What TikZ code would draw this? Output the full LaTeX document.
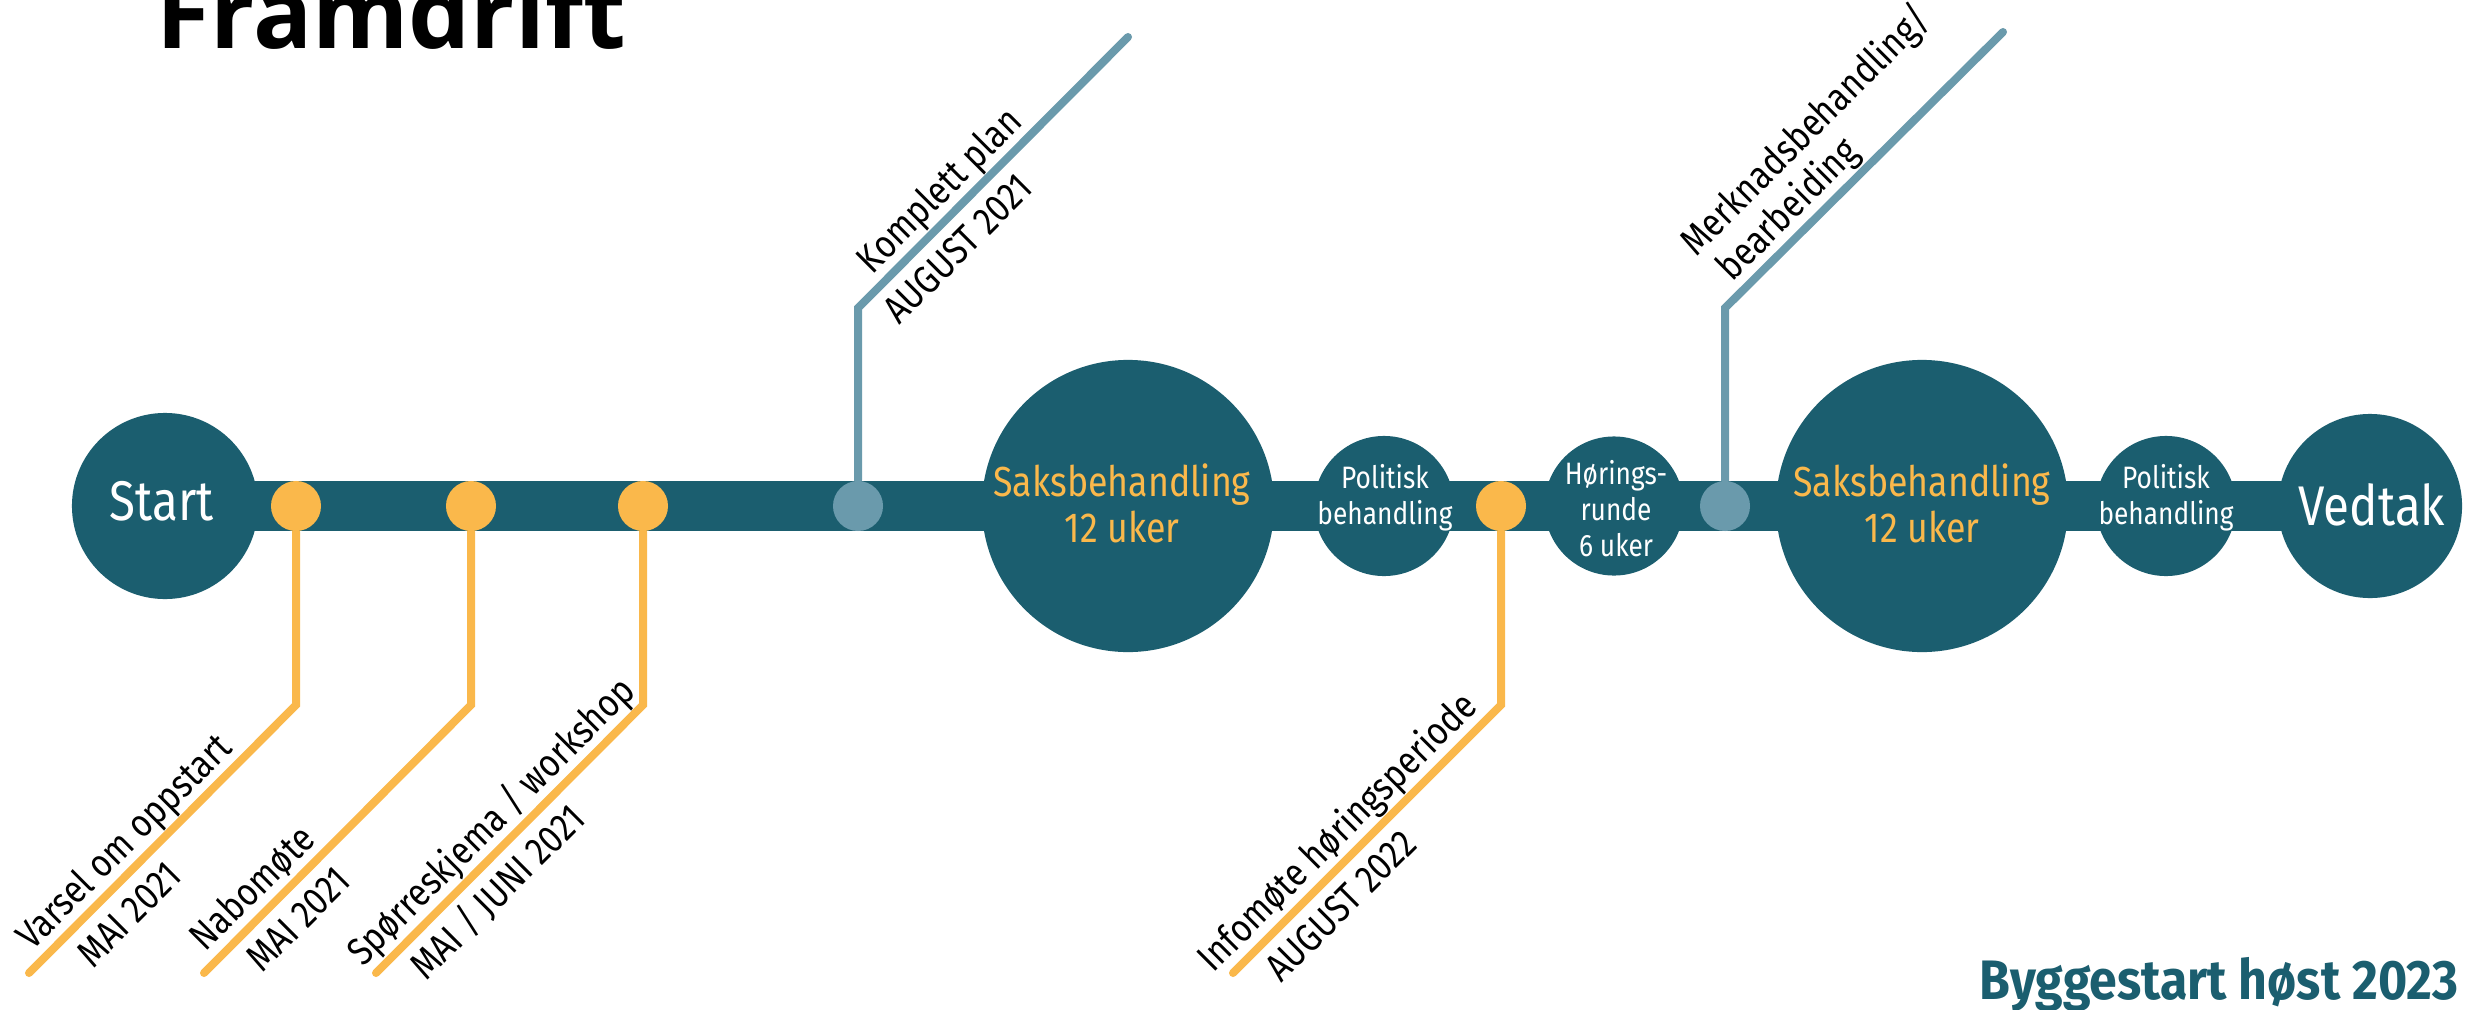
\documentclass[tikz,border=0pt]{standalone}
\usepackage{fontspec}
\setmainfont{Fira Sans}[FakeStretch=0.85]
\newfontfamily\titlefont{Open Sans}
\newfontfamily\byggfont{Fira Sans}[FakeStretch=0.9]
\usetikzlibrary{calc}
\definecolor{tealdk}{HTML}{1B5E6F}
\definecolor{orng}{HTML}{FAB84B}
\definecolor{bgray}{HTML}{6A9AAC}
\begin{document}
\begin{tikzpicture}[x=0.01cm,y=-0.01cm,
  bigc/.style={circle,fill=tealdk,inner sep=0pt,minimum size=#1},
  odot/.style={circle,fill=orng,inner sep=0pt,minimum size=0.5cm},
  bdot/.style={circle,fill=bgray,inner sep=0pt,minimum size=0.5cm},
  oline/.style={draw=orng,line width=0.08cm,line cap=round},
  bline/.style={draw=bgray,line width=0.08cm,line cap=round},
  bartrack/.style={draw=tealdk,line width=0.49cm},
  bigtxt/.style={anchor=base,inner sep=0pt,text=white,font=\fontsize{15.9pt}{19pt}\selectfont},
  sakstxt/.style={anchor=base,inner sep=0pt,text=orng,font=\fontsize{11.95pt}{13pt}\selectfont},
  smalltxt/.style={anchor=base,inner sep=0pt,text=white,font=\fontsize{8.8pt}{10.2pt}\selectfont},
  lbl/.style={anchor=base west,inner sep=0pt,rotate=45,text=black,font=\fontsize{11.1pt}{13.3pt}\selectfont}]
\clip (0,0) rectangle (2476,1009);
\fill[white] (0,0) rectangle (2476,1009);
% centres
\coordinate (cStart) at (165,506);
\coordinate (cSaks1) at (1128,506);
\coordinate (cPol1) at (1384,506);
\coordinate (cHor) at (1614,506);
\coordinate (cSaks2) at (1922,506);
\coordinate (cPol2) at (2166,506);
\coordinate (cVed) at (2370,506);
% track
\draw[bartrack] (cStart) -- (cVed);
% circles
\node[bigc=1.86cm] (start) at (cStart) {};
\node[bigc=2.92cm] (saks1) at (cSaks1) {};
\node[bigc=1.40cm] (pol1) at (cPol1) {};
\node[bigc=1.39cm] (hor) at (cHor) {};
\node[bigc=2.92cm] (saks2) at (cSaks2) {};
\node[bigc=1.40cm] (pol2) at (cPol2) {};
\node[bigc=1.84cm] (vedtak) at (cVed) {};
% circle texts
\node[bigtxt] (tStart) at (162,520) {Start};
\node[bigtxt] (tVed) at (2372,525) {Vedtak};
\node[sakstxt] (tS1a) at (1122,496) {Saksbehandling};
\node[sakstxt] (tS1b) at (1122,542) {12 uker};
\node[sakstxt] (tS2a) at (1922,496) {Saksbehandling};
\node[sakstxt] (tS2b) at (1922,542) {12 uker};
\node[smalltxt] (tP1a) at (1385,488) {Politisk};
\node[smalltxt] (tP1b) at (1385,524) {behandling};
\node[smalltxt] (tP2a) at (2166,488) {Politisk};
\node[smalltxt] (tP2b) at (2166,524) {behandling};
\node[smalltxt] (tHa) at (1616,484) {Hørings-};
\node[smalltxt] (tHb) at (1616,520) {runde};
\node[smalltxt] (tHc) at (1616,556) {6 uker};
% milestone dots
\node[odot] (d1) at (296,506) {};
\node[odot] (d2) at (471,506) {};
\node[odot] (d3) at (643,506) {};
\node[odot] (d4) at (1501,506) {};
\node[bdot] (u1) at (858,506) {};
\node[bdot] (u2) at (1725,506) {};
% bends and ends
\coordinate (b1) at (296,705); \coordinate (e1) at (29,973);
\coordinate (b2) at (471,705); \coordinate (e2) at (204,973);
\coordinate (b3) at (643,705); \coordinate (e3) at (376,973);
\coordinate (b4) at (1501,705); \coordinate (e4) at (1233,973);
\coordinate (ub1) at (858,308); \coordinate (ue1) at (1128,37);
\coordinate (ub2) at (1725,308); \coordinate (ue2) at (2003,32);
\draw[oline] (d1.south) -- (b1) -- (e1);
\draw[oline] (d2.south) -- (b2) -- (e2);
\draw[oline] (d3.south) -- (b3) -- (e3);
\draw[oline] (d4.south) -- (b4) -- (e4);
\draw[bline] (u1.north) -- (ub1) -- (ue1);
\draw[bline] (u2.north) -- (ub2) -- (ue2);
% labels
\node[lbl] (l1a) at ($(e1)+(2.8,-21.2)$) {Varsel om oppstart};
\node[lbl] (l1b) at ($(e1)+(63.6,-3.5)$) {MAI 2021};
\node[lbl] (l2a) at ($(e2)+(1.4,-19.8)$) {Nabomøte};
\node[lbl] (l2b) at ($(e2)+(58,1.4)$) {MAI 2021};
\node[lbl] (l3a) at ($(e3)+(-13.4,-4.9)$) {Spørreskjema / workshop};
\node[lbl] (l3b) at ($(e3)+(50.2,9.2)$) {MAI / JUNI 2021};
\node[lbl] (l4a) at ($(e4)+(-19.8,1.4)$) {Infomøte høringsperiode};
\node[lbl] (l4b) at ($(e4)+(48.1,11.3)$) {AUGUST 2022};
\node[lbl] (l5a) at ($(ub1)+(14.1,-32.5)$) {Komplett plan};
\node[lbl] (l5b) at ($(ub1)+(41,18.4)$) {AUGUST 2021};
\node[lbl] (l6a) at ($(ub2)+(-29,-50)$) {Merknadsbehandling/};
\node[lbl] (l6b) at ($(ub2)+(7,-25)$) {bearbeiding};
% title and footer
\node[anchor=base west,inner sep=0pt,font=\titlefont\bfseries\fontsize{27.9pt}{32pt}\selectfont] (title) at (156,48) {Framdrift};
\node[anchor=base east,inner sep=0pt,text=tealdk,font=\byggfont\bfseries\fontsize{15.8pt}{19pt}\selectfont] (bygg) at (2459,999) {Byggestart høst 2023};
\end{tikzpicture}
\end{document}
